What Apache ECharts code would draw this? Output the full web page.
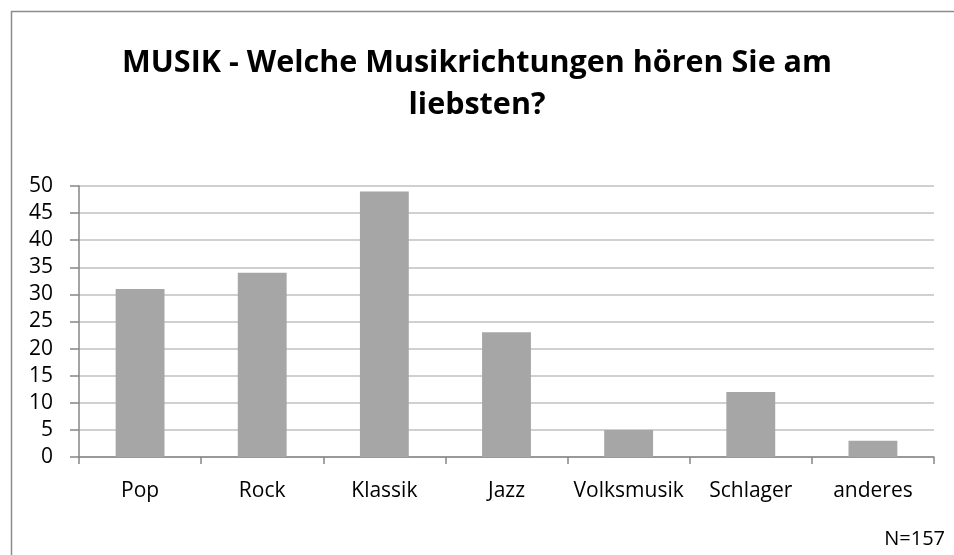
<!DOCTYPE html>
<html>
<head>
<meta charset="utf-8">
<script src="https://cdn.jsdelivr.net/npm/echarts@6/dist/echarts.min.js"></script>
<style>
  html, body { margin: 0; padding: 0; background: #fff; }
  #chart { width: 954px; height: 555px; }
</style>
</head>
<body>
<div id="chart"></div>
<script>
// Survey: preferred music genres (N=157)
const categories = ['Pop', 'Rock', 'Klassik', 'Jazz', 'Volksmusik', 'Schlager', 'anderes'];
const counts = [31, 34, 49, 23, 5, 12, 3];
const titleText = 'MUSIK - Welche Musikrichtungen hören Sie am\nliebsten?';
const noteText = 'N=157';

const fontFam = '"Open Sans", "Liberation Sans", sans-serif';
const chart = echarts.init(document.getElementById('chart'));

chart.setOption({
  animation: false,
  backgroundColor: '#ffffff',
  title: {
    text: titleText,
    left: 'center',
    top: 37,
    textStyle: {
      fontFamily: fontFam,
      fontWeight: 'bold',
      fontSize: 30.5,
      lineHeight: 42,
      color: '#000'
    }
  },
  graphic: [
    { type: 'line', shape: { x1: 11, y1: 11.5, x2: 954, y2: 11.5 }, style: { stroke: '#8c8c8c', lineWidth: 1.5 } },
    { type: 'line', shape: { x1: 11.5, y1: 11, x2: 11.5, y2: 555 }, style: { stroke: '#8c8c8c', lineWidth: 1.5 } },
    {
      type: 'text', right: 9, top: 529,
      style: { text: noteText, font: '20px ' + fontFam, fill: '#000' }
    }
  ],
  grid: { left: 79, right: 20, top: 186, bottom: 98 },
  xAxis: {
    type: 'category',
    data: categories,
    axisLine: { lineStyle: { color: '#868686', width: 1.5 } },
    axisTick: { show: true, interval: 0, length: 7, alignWithLabel: false, lineStyle: { color: '#868686', width: 1.5 } },
    axisLabel: { interval: 0, hideOverlap: false, fontFamily: fontFam, fontSize: 21, color: '#000', margin: 24 }
  },
  yAxis: {
    type: 'value',
    min: 0,
    max: 50,
    interval: 5,
    axisLine: { show: true, lineStyle: { color: '#868686', width: 1.5 } },
    axisTick: { show: true, length: 9, lineStyle: { color: '#868686', width: 1.5 } },
    axisLabel: { fontFamily: fontFam, fontSize: 21, color: '#000', margin: 26 },
    splitLine: { lineStyle: { color: '#c0c0c0', width: 1.5 } }
  },
  series: [{
    type: 'bar',
    data: counts,
    barWidth: '40%',
    itemStyle: { color: '#a6a6a6' }
  }]
});
</script>
</body>
</html>
